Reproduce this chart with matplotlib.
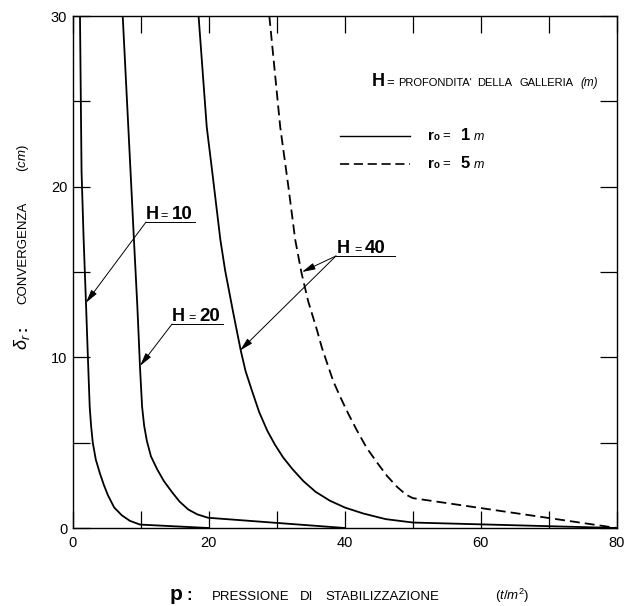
import matplotlib
matplotlib.use('Agg')
import matplotlib.pyplot as plt
from matplotlib.ticker import MultipleLocator, FuncFormatter

plt.rcParams['font.family'] = ['Liberation Sans', 'DejaVu Sans']
plt.rcParams['mathtext.fontset'] = 'custom'
plt.rcParams['mathtext.rm'] = 'Liberation Sans'
plt.rcParams['mathtext.it'] = 'Liberation Sans:italic'
plt.rcParams['mathtext.bf'] = 'Liberation Sans:bold'

# ---------------- data ----------------
# r0 = 1 m, H = 10 m
p_h10 = [1.07, 1.3, 1.6, 1.95, 2.1, 2.25, 2.5, 2.7, 2.95, 3.4, 4.0, 4.6, 5.2, 6.1, 7.2, 8.4, 9.9, 20.0]
d_h10 = [30.0, 20.9, 17.0, 13.2, 11.5, 9.8, 7.1, 6.0, 5.0, 4.0, 3.2, 2.5, 1.9, 1.2, 0.75, 0.42, 0.2, 0.0]
# r0 = 1 m, H = 20 m
p_h20 = [7.35, 8.5, 9.0, 9.5, 9.7, 9.9, 10.2, 10.5, 10.9, 11.5, 12.4, 13.4, 14.6, 15.7, 17.0, 18.3, 19.9, 40.0]
d_h20 = [30.0, 20.9, 16.9, 13.0, 11.2, 9.35, 7.1, 6.0, 5.1, 4.2, 3.45, 2.75, 2.1, 1.55, 1.08, 0.8, 0.6, 0.0]
# r0 = 1 m, H = 40 m
p_h40 = [18.5, 19.7, 20.5, 21.7, 22.4, 23.6, 24.7, 25.4, 26.3, 27.4, 28.6, 29.7, 30.9, 32.3, 33.9,
         35.7, 37.8, 40.0, 42.7, 46.0, 50.0, 80.0]
d_h40 = [30.0, 23.5, 20.9, 16.9, 15.1, 12.6, 10.4, 9.2, 8.1, 6.8, 5.7, 4.9, 4.15, 3.45, 2.75,
         2.12, 1.6, 1.2, 0.85, 0.52, 0.32, 0.0]
# r0 = 5 m, H = 40 m (dashed)
p_h40r5 = [28.9, 30.5, 31.7, 32.7, 33.6, 34.6, 35.9, 36.6, 37.4, 38.3, 39.3, 40.5, 41.8, 43.2, 44.8,
           46.2, 47.7, 49.0, 50.0, 80.0]
d_h40r5 = [30.0, 23.5, 20.0, 16.9, 15.0, 13.3, 11.6, 10.6, 9.65, 8.6, 7.7, 6.7, 5.7, 4.7, 3.8,
           3.05, 2.4, 1.95, 1.75, 0.0]

x_limits = [0, 80]
y_limits = [0, 30]

# annotations: label, underline start (p, d), underline end p, arrow tips
ann_labels = ['10', '20', '40']
ann_start = [(10.78, 17.93), (14.6, 11.95), (38.7, 15.94)]
ann_end = [17.98, 22.1, 47.4]
ann_tips = [[(1.95, 13.2)], [(9.9, 9.5)], [(33.7, 15.0), (24.6, 10.4)]]
ann_offsets = [(0, 14, 26), (0, 16, 27), (1, 18, 29)]

W, H = 629, 606
fig = plt.figure(figsize=(W / 100, H / 100), dpi=100)
ax = fig.add_axes([72.7 / W, 1 - 528 / H, (617 - 72.7) / W, (528 - 16) / H])

lw = 1.3
ax.plot(p_h10, d_h10, color='black', lw=lw, solid_joinstyle='round')
ax.plot(p_h20, d_h20, color='black', lw=lw, solid_joinstyle='round')
ax.plot(p_h40, d_h40, color='black', lw=lw, solid_joinstyle='round')
ax.plot(p_h40r5, d_h40r5, color='black', lw=lw, linestyle=(0, (5.5, 2.8)))

ax.set_xlim(x_limits)
ax.set_ylim(y_limits)
ax.xaxis.set_major_locator(MultipleLocator(10))
ax.yaxis.set_major_locator(MultipleLocator(5))
ax.xaxis.set_major_formatter(FuncFormatter(lambda v, _: f'{int(round(v))}' if round(v) % 20 == 0 else ''))
ax.yaxis.set_major_formatter(FuncFormatter(lambda v, _: f'{int(round(v))}' if round(v) % 10 == 0 else ''))
ax.tick_params(direction='in', length=12, width=0.9, top=True, right=True, labelsize=10.5)
ax.tick_params(axis='x', pad=6)
ax.tick_params(axis='y', pad=4)
for s in ax.spines.values():
    s.set_linewidth(1.0)

# ---------------- annotations ----------------
for lab, (x0, y0), x1, tips, offs in zip(ann_labels, ann_start, ann_end, ann_tips, ann_offsets):
    ax.plot([x0, x1], [y0, y0], color='black', lw=0.7, clip_on=False)
    for t in tips:
        ax.annotate('', xy=t, xytext=(x0, y0),
                    arrowprops=dict(arrowstyle='-|>,head_length=0.8,head_width=0.2',
                                    lw=0.7, color='black', shrinkA=0, shrinkB=0))
    ax.annotate('H', xy=(x0, y0), xytext=(offs[0], 2.7), textcoords='offset pixels',
                fontsize=13, fontweight='bold', ha='left', va='baseline')
    ax.annotate('=', xy=(x0, y0), xytext=(offs[1], 2.7), textcoords='offset pixels',
                fontsize=9, ha='left', va='baseline')
    ax.annotate(lab, xy=(x0, y0), xytext=(offs[2], 2.7), textcoords='offset pixels',
                fontsize=13.5, fontweight='bold', ha='left', va='baseline')


def ftext(xpx, ypx, s, **kw):
    fig.text(xpx / W, 1 - ypx / H, s, ha=kw.pop('ha', 'left'), va=kw.pop('va', 'baseline'), **kw)


# ---------------- legend block ----------------
ftext(372, 86, 'H', fontsize=13, fontweight='bold')
ftext(386, 86, '=', fontsize=9.5)
ftext(398, 86, "PROFONDITA'", fontsize=8)
ftext(477, 86, 'DELLA', fontsize=8)
ftext(519, 86, 'GALLERIA', fontsize=8)
ftext(580, 86, '(m)', fontsize=8.5, fontstyle='italic')

fig.add_artist(plt.Line2D([340 / W, 410 / W], [1 - 136 / H, 1 - 136 / H], color='black', lw=1.0))
fig.add_artist(plt.Line2D([340 / W, 410 / W], [1 - 163.5 / H, 1 - 163.5 / H], color='black', lw=1.2,
                          linestyle=(0, (5.5, 2.8))))
for yb, num in [(139.5, '1'), (167.5, '5')]:
    ftext(428, yb, 'r', fontsize=11, fontweight='bold')
    ftext(433.5, yb, 'o', fontsize=7, fontweight='bold')
    ftext(442, yb, '=', fontsize=9.5)
    ftext(461, yb, num, fontsize=12, fontweight='bold')
    ftext(474, yb, 'm', fontsize=9, fontstyle='italic')

# ---------------- axis titles ----------------
ftext(170, 600, 'p', fontsize=15, fontweight='bold')
ftext(186, 600, ':', fontsize=12, fontweight='bold')
ftext(212, 600, 'PRESSIONE', fontsize=9.5)
ftext(300, 600, 'DI', fontsize=9.5)
ftext(325, 600, 'STABILIZZAZIONE', fontsize=9.5)
ftext(495, 600, r'$(t/m^2)$', fontsize=9.5)


def ytext(xpx, ypx, s, **kw):
    fig.text(xpx / W, 1 - ypx / H, s, rotation=90, rotation_mode='anchor',
             ha='center', va='baseline', **kw)


ytext(27, 342, r'$\delta_r$', fontsize=13)
ytext(27, 328, ':', fontsize=11, fontweight='bold')
ytext(26, 253, 'CONVERGENZA', fontsize=9.5)
ytext(26, 158, r'$(cm)$', fontsize=9.5)

fig.savefig('out.png', dpi=100, facecolor='white')
